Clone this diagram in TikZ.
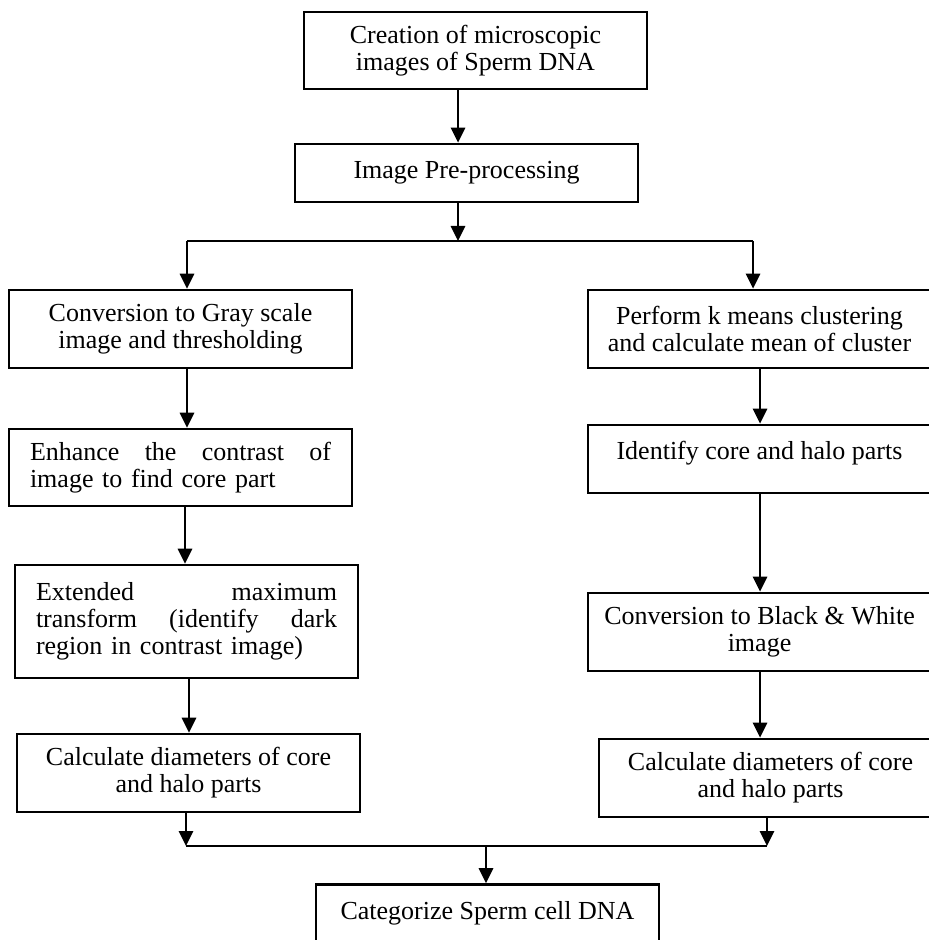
\documentclass[tikz,border=0pt]{standalone}
\usepackage{fontspec}
\setmainfont{Liberation Serif}
\usetikzlibrary{arrows.meta}
\tikzset{
  stage/.style={draw, line width=1.3pt, minimum width=171.5pt, align=center, inner sep=3pt, font=\fontsize{13}{13.6}\selectfont},
  flow/.style={line width=1.4pt, -{Triangle[width=7pt,length=7.5pt]}},
  busline/.style={line width=1pt}
}
\begin{document}
\begin{tikzpicture}[x=0.5pt,y=-0.5pt]
  \useasboundingbox (0,0) rectangle (929,940);
  \clip (0,0) rectangle (929,940);

  % top of the chart
  \node[stage, minimum height=38.5pt] (create) at (475.5,50.5) {Creation of microscopic\\images of Sperm DNA};
  \node[stage, minimum height=29pt] (prep) at (466.5,173) {Image Pre-processing};

  % left branch
  \node[stage, minimum height=39pt] (gray) at (180.5,329) {Conversion to Gray scale\\image and thresholding};
  \node[stage, minimum height=38.5pt, text width=150.5pt, align=left] (enhance) at (180.5,467.5) {Enhance\hfill the\hfill contrast\hfill of\\image to find core part};
  \node[stage, minimum height=56.5pt, text width=150.5pt, align=left] (extmax) at (186.5,621.5) {Extended\hfill maximum\\transform\hfill (identify\hfill dark\\region in contrast image)};
  \node[stage, minimum height=39pt] (diamL) at (188.5,773) {Calculate diameters of core\\and halo parts};

  % right branch
  \node[stage, minimum height=39pt] (kmeans) at (759.5,329) {Perform k means clustering\\and calculate mean of cluster};
  \node[stage, minimum height=34pt] (ident) at (759.5,459) {Identify core and halo parts\\[-9pt] \strut};
  \node[stage, minimum height=39pt] (bw) at (759.5,632) {Conversion to Black \& White\\image};
  \node[stage, minimum height=39pt] (diamR) at (770.5,778) {Calculate diameters of core\\and halo parts};

  % result
  \node[stage, minimum height=38.5pt] (cat) at (487.5,923) {Categorize Sperm cell DNA\\[-5pt] \strut};

  % connectors
  \coordinate (x1) at (458,0);
  \coordinate (split) at (458,241);
  \coordinate (splitL) at (187,241);
  \coordinate (splitR) at (753,241);
  \coordinate (xL2) at (185,0);
  \coordinate (xL3) at (189,0);
  \coordinate (xR) at (760,0);
  \coordinate (merge) at (486,846);
  \coordinate (mergeL) at (186,846);
  \coordinate (mergeR) at (767,846);

  \draw[flow] (create.south -| x1) -- (prep.north -| x1);
  \draw[flow] (prep.south -| x1) -- (split);
  \draw[busline] (splitL) -- (splitR);
  \draw[flow] (splitL) -- (gray.north -| splitL);
  \draw[flow] (splitR) -- (kmeans.north -| splitR);

  \draw[flow] (gray.south -| splitL) -- (enhance.north -| splitL);
  \draw[flow] (enhance.south -| xL2) -- (extmax.north -| xL2);
  \draw[flow] (extmax.south -| xL3) -- (diamL.north -| xL3);

  \draw[flow] (kmeans.south -| xR) -- (ident.north -| xR);
  \draw[flow] (ident.south -| xR) -- (bw.north -| xR);
  \draw[flow] (bw.south -| xR) -- (diamR.north -| xR);

  \draw[flow] (diamL.south -| mergeL) -- (mergeL);
  \draw[flow] (diamR.south -| mergeR) -- (mergeR);
  \draw[busline] (mergeL) -- (mergeR);
  \draw[flow] (merge) -- (cat.north -| merge);
\end{tikzpicture}
\end{document}
